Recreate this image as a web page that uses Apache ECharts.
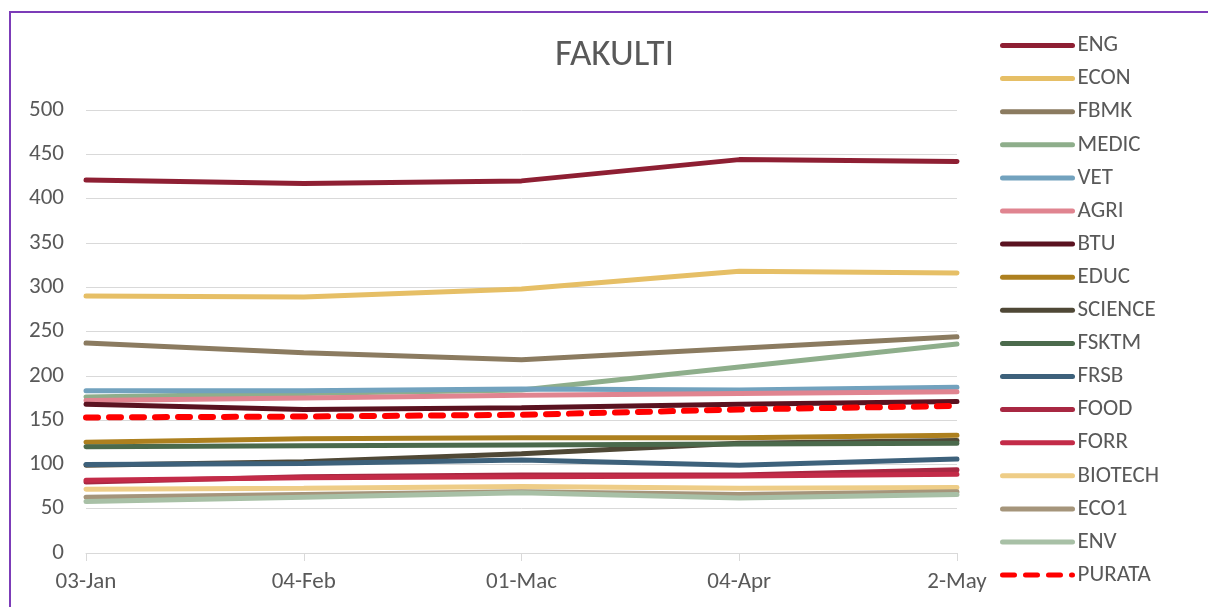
<!DOCTYPE html>
<html>
<head>
<meta charset="utf-8">
<title>FAKULTI</title>
<script src="https://cdn.jsdelivr.net/npm/echarts@6/dist/echarts.min.js"></script>
<style>
html, body {
  margin: 0;
  padding: 0;
  background: #fff;
}
#frame {
  position: absolute;
  left: 9px;
  top: 11px;
  width: 1199px;
  height: 596px;
  border-left: 2px solid #7c3cb8;
  border-top: 2px solid #7c3cb8;
  box-sizing: border-box;
}
#chart {
  position: absolute;
  left: 0;
  top: 0;
  width: 1208px;
  height: 607px;
}
</style>
</head>
<body>
<div id="frame"></div>
<div id="chart"></div>
<script>
// categories (dates)
const dates = ['03-Jan', '04-Feb', '01-Mac', '04-Apr', '2-May'];

// values
const eng     = [421, 417, 420, 444, 442];
const econ    = [290, 289, 298, 318, 316];
const fbmk    = [237, 226, 218, 231, 244];
const medic   = [176, 180, 184, 210, 236];
const vet     = [183, 183, 185, 184, 187];
const agri    = [172, 175, 178, 180, 182];
const btu     = [168, 162, 164, 168, 171];
const educ    = [125, 129, 130, 130, 133];
const science = [99, 103, 112, 124, 127];
const fsktm   = [120, 121, 122, 123, 124];
const frsb    = [100, 101, 105, 99, 106];
const food    = [80, 86, 88, 88, 94];
const forr    = [82, 85, 86, 87, 89];
const biotech = [72, 73, 75, 73, 74];
const eco1    = [63, 66, 69, 66, 69];
const env     = [58, 63, 68, 62, 66];
const purata  = [153, 154, 156, 162, 166];

const names  = ['ENG', 'ECON', 'FBMK', 'MEDIC', 'VET', 'AGRI', 'BTU', 'EDUC', 'SCIENCE',
                'FSKTM', 'FRSB', 'FOOD', 'FORR', 'BIOTECH', 'ECO1', 'ENV', 'PURATA'];
const values = [eng, econ, fbmk, medic, vet, agri, btu, educ, science,
                fsktm, frsb, food, forr, biotech, eco1, env, purata];
const colors = ['#8e1f33', '#e6bf66', '#8b7b60', '#8eae8b', '#72a2be', '#e08490', '#5a1220',
                '#ad801f', '#4f4836', '#4b6a4c', '#3d617b', '#a82842', '#c32b48', '#eecd87',
                '#a5957b', '#a8c0a6', '#ff0000'];

const chart = echarts.init(document.getElementById('chart'));

const font = 'Calibri, Carlito, "Open Sans", sans-serif';

const series = names.map((name, i) => {
  const isAvg = name === 'PURATA';
  return {
    name: name,
    type: 'line',
    data: values[i],
    symbol: 'none',
    smooth: false,
    z: 2 + i,
    lineStyle: {
      color: colors[i],
      width: isAvg ? 6 : 5,
      type: isAvg ? [12, 11] : 'solid',
      cap: 'round'
    },
    itemStyle: { color: colors[i] }
  };
});

chart.setOption({
  animation: false,
  textStyle: { fontFamily: font },
  title: {
    text: 'FAKULTI',
    left: 550,
    top: 32,
    textStyle: {
      color: '#595959',
      fontSize: 37,
      fontWeight: 'normal',
      fontFamily: font
    }
  },
  legend: {
    orient: 'vertical',
    left: 1000,
    top: 34,
    padding: 0,
    itemWidth: 70,
    itemHeight: 23,
    itemGap: 10.1,
    data: names,
    itemStyle: { opacity: 0 },
    lineStyle: { width: 5, cap: 'round' },
    textStyle: {
      color: '#595959',
      fontSize: 23,
      fontFamily: font
    }
  },
  grid: {
    left: 86,
    right: 251,
    top: 110,
    bottom: 54,
    containLabel: false
  },
  xAxis: {
    type: 'category',
    data: dates,
    boundaryGap: false,
    axisLine: { lineStyle: { color: '#d9d9d9', width: 1 } },
    axisTick: { show: true, length: 8, lineStyle: { color: '#d9d9d9' } },
    axisLabel: {
      color: '#595959',
      fontSize: 23,
      margin: 18,
      fontFamily: font
    }
  },
  yAxis: {
    type: 'value',
    min: 0,
    max: 500,
    interval: 50,
    axisLine: { show: false },
    axisTick: { show: false },
    splitLine: { lineStyle: { color: '#d9d9d9', width: 1 } },
    axisLabel: {
      color: '#595959',
      fontSize: 23,
      margin: 22,
      fontFamily: font
    }
  },
  series: series
});
</script>
</body>
</html>
